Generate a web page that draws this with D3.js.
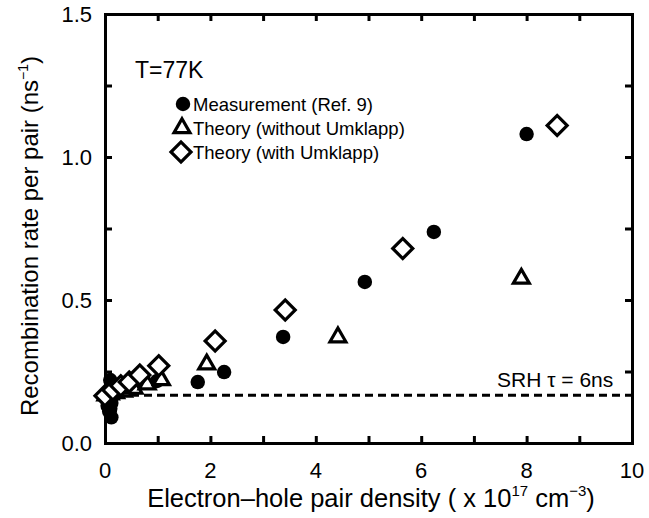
<!DOCTYPE html>
<html>
<head>
<meta charset="utf-8">
<script src="https://cdn.jsdelivr.net/npm/d3@7"></script>
<style>
  body { margin: 0; background: #fff; }
  text { font-family: "Liberation Sans", Arial, sans-serif; fill: #000; }
</style>
</head>
<body>
<div id="chart"></div>
<script>
// recombination rate vs pair density, T=77K
const measX = [8.0, 6.24, 4.93, 3.38, 2.26, 1.76, 0.99, 0.1, 0.12, 0.1, 0.08, 0.12, 0.1, 0.08, 0.12, 0.05, 0.15, 0.05];
const measY = [1.08, 0.738, 0.563, 0.371, 0.248, 0.213, 0.217, 0.22, 0.2, 0.18, 0.16, 0.14, 0.12, 0.11, 0.09, 0.17, 0.19, 0.13];

const noUmkX = [0.02, 0.1, 0.2, 0.35, 0.55, 0.8, 1.07, 1.93, 4.42, 7.9];
const noUmkY = [0.167, 0.17, 0.175, 0.18, 0.19, 0.205, 0.22, 0.275, 0.37, 0.575];

const umkX = [0.0, 0.15, 0.3, 0.46, 0.66, 1.02, 2.09, 3.42, 5.65, 8.58];
const umkY = [0.165, 0.185, 0.2, 0.213, 0.238, 0.27, 0.357, 0.465, 0.68, 1.11];

const srhRate = 1 / 6;
const xTicks = [0, 2, 4, 6, 8, 10];
const yTicks = [0.0, 0.5, 1.0, 1.5];
const legendLabels = ["Measurement (Ref. 9)", "Theory (without Umklapp)", "Theory (with Umklapp)"];

const width = 649, height = 518;
const margin = { left: 105, right: 17, top: 14, bottom: 75 };

const svg = d3.select("#chart").append("svg")
  .attr("width", width)
  .attr("height", height);

const x = d3.scaleLinear().domain([0, 10]).range([margin.left, width - margin.right]);
const y = d3.scaleLinear().domain([0, 1.5]).range([height - margin.bottom, margin.top]);

// inward ticks on all four sides
const tickLen = 7;
const minorX = d3.range(0, 11, 1);
const minorY = d3.range(0, 1.51, 0.25);

svg.append("g").attr("transform", `translate(0,${y(0)})`)
  .call(d3.axisBottom(x).tickValues(minorX).tickSize(-tickLen).tickFormat(""));
svg.append("g").attr("transform", `translate(0,${y(1.5)})`)
  .call(d3.axisTop(x).tickValues(minorX).tickSize(-tickLen).tickFormat(""));
svg.append("g").attr("transform", `translate(${x(0)},0)`)
  .call(d3.axisLeft(y).tickValues(minorY).tickSize(-tickLen).tickFormat(""));
svg.append("g").attr("transform", `translate(${x(10)},0)`)
  .call(d3.axisRight(y).tickValues(minorY).tickSize(-tickLen).tickFormat(""));

svg.selectAll(".domain").attr("stroke-width", 3);
svg.selectAll(".tick line").attr("stroke-width", 3);

// tick labels
svg.selectAll(".xlab").data(xTicks).enter().append("text")
  .attr("x", d => x(d))
  .attr("y", y(0) + 35)
  .attr("text-anchor", "middle")
  .attr("font-size", 22)
  .text(d => d);

svg.selectAll(".ylab").data(yTicks).enter().append("text")
  .attr("x", x(0) - 13)
  .attr("y", d => y(d) + 8)
  .attr("text-anchor", "end")
  .attr("font-size", 22)
  .text(d => d.toFixed(1));

// axis titles
const xt = svg.append("text")
  .attr("x", 371).attr("y", 507)
  .attr("text-anchor", "middle")
  .attr("font-size", 25.5);
xt.append("tspan").text("Electron\u2013hole pair density ( x 10");
xt.append("tspan").attr("font-size", 15).attr("dy", -11).text("17");
xt.append("tspan").attr("dy", 11).text(" cm");
xt.append("tspan").attr("font-size", 15).attr("dy", -11).text("\u22123");
xt.append("tspan").attr("dy", 11).text(")");

const yt = svg.append("text")
  .attr("transform", `translate(38,236) rotate(-90)`)
  .attr("text-anchor", "middle")
  .attr("font-size", 24);
yt.append("tspan").text("Recombination rate per pair (ns");
yt.append("tspan").attr("font-size", 14).attr("dy", -10).text("\u22121");
yt.append("tspan").attr("dy", 10).text(")");

// SRH line
svg.append("line")
  .attr("x1", x(0)).attr("x2", x(10))
  .attr("y1", y(srhRate)).attr("y2", y(srhRate))
  .attr("stroke", "#000")
  .attr("stroke-width", 3)
  .attr("stroke-dasharray", "8,5");

svg.append("text")
  .attr("x", 497).attr("y", 387)
  .attr("font-size", 21)
  .text("SRH \u03c4 = 6ns");

svg.append("text")
  .attr("x", 135).attr("y", 78)
  .attr("font-size", 23)
  .text("T=77K");

// markers
const circle = d3.symbol().type(d3.symbolCircle).size(165);
const tri = d3.symbol().type(d3.symbolTriangle).size(110);
const diamond = d3.symbol().type(d3.symbolSquare).size(200);

svg.selectAll(".meas").data(d3.range(measX.length)).enter().append("path")
  .attr("d", circle)
  .attr("transform", i => `translate(${x(measX[i])},${y(measY[i])})`)
  .attr("fill", "#000");

svg.selectAll(".tri").data(d3.range(noUmkX.length)).enter().append("path")
  .attr("d", tri)
  .attr("transform", i => `translate(${x(noUmkX[i])},${y(noUmkY[i])})`)
  .attr("fill", "#fff")
  .attr("stroke", "#000")
  .attr("stroke-width", 3.2);

svg.selectAll(".dia").data(d3.range(umkX.length)).enter().append("path")
  .attr("d", diamond)
  .attr("transform", i => `translate(${x(umkX[i])},${y(umkY[i])}) rotate(45)`)
  .attr("fill", "#fff")
  .attr("stroke", "#000")
  .attr("stroke-width", 3.2);

// legend
const legend = svg.append("g");
const rows = [104, 128, 152];
legend.append("path").attr("d", circle).attr("transform", `translate(183,${rows[0]})`).attr("fill", "#000");
legend.append("path").attr("d", tri).attr("transform", `translate(182,${rows[1]})`)
  .attr("fill", "#fff").attr("stroke", "#000").attr("stroke-width", 3.2);
legend.append("path").attr("d", diamond).attr("transform", `translate(181,${rows[2]}) rotate(45)`)
  .attr("fill", "#fff").attr("stroke", "#000").attr("stroke-width", 3.2);

legend.selectAll(".lt").data(legendLabels).enter().append("text")
  .attr("x", 193)
  .attr("y", (d, i) => rows[i] + 7)
  .attr("font-size", 18.5)
  .text(d => d);
</script>
</body>
</html>
